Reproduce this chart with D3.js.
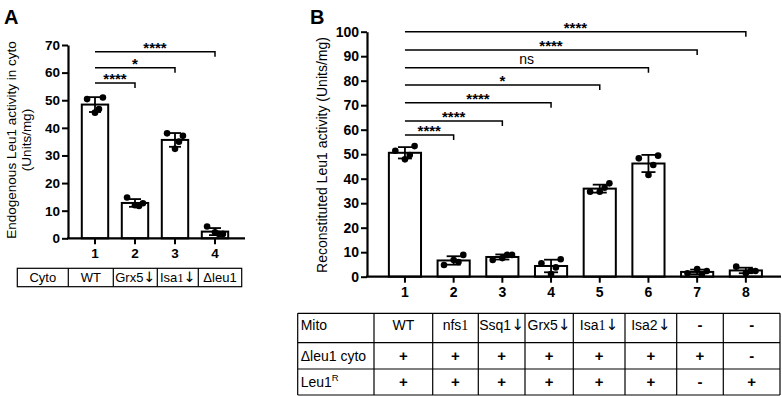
<!DOCTYPE html>
<html lang="en">
<head>
<meta charset="UTF-8">
<script src="https://d3js.org/d3.v7.min.js"></script>
<style>
    body { margin: 0; background: #fff; }
    text { font-family: "Liberation Sans", Arial, sans-serif; fill: #000; }
</style>
</head>
<body>
<div id="chart"></div>
<script>
    // ---- panel A data ----
    const catsA = ["1", "2", "3", "4"]
    const pointsA = [
        [50.4, 51.0, 45.5, 46.8],
        [14.8, 12.7, 12.0, 11.7],
        [38.0, 37.1, 32.4, 35.0],
        [4.3, 1.6, 2.2, 1.6]
    ]
    const tableA = ["Cyto", "WT", "Grx5\u2193", "Isa1\u2193", "\u0394leu1"]
    const sigToA = ["2", "3", "4"]
    const sigLabelA = ["****", "*", "****"]
    const sigLevelA = [56.2, 61.8, 67.6]
    const ticksA = [0, 10, 20, 30, 40, 50, 60, 70]

    // ---- panel B data ----
    const catsB = ["1", "2", "3", "4", "5", "6", "7", "8"]
    const pointsB = [
        [51.4, 53.3, 47.9, 49.7],
        [4.8, 8.9, 6.8, 6.0],
        [6.8, 8.9, 7.6, 8.9],
        [5.5, 7.1, 1.1, 3.8],
        [34.7, 38.1, 34.7, 36.3],
        [48.3, 49.4, 41.5, 45.6],
        [1.4, 2.3, 3.1, 1.0],
        [4.1, 2.3, 1.4, 2.4]
    ]
    const rowLabelsB = ["Mito", "\u0394leu1 cyto", "Leu1"]
    const mitoB = ["WT", "nfs1", "Ssq1\u2193", "Grx5\u2193", "Isa1\u2193", "Isa2\u2193", "-", "-"]
    const cytoB = ["+", "+", "+", "+", "+", "+", "+", "-"]
    const leuB = ["+", "+", "+", "+", "+", "+", "-", "+"]
    const sigToB = ["2", "3", "4", "5", "6", "7", "8"]
    const sigLabelB = ["****", "****", "****", "*", "ns", "****", "****"]
    const sigLevelB = [57.8, 63.6, 71.0, 78.2, 85.3, 92.5, 100]
    const ticksB = [0, 10, 20, 30, 40, 50, 60, 70, 80, 90, 100]

    const svg = d3.select("#chart").append("svg")
        .attr("width", 782)
        .attr("height", 396)

    // spread of the 4 dots inside a bar (fraction of bar width)
    const jitter = [-0.3, 0.3, 0, 0.15]

    function panel(opt) {
        let g = svg.append("g")
        let x = d3.scaleBand()
            .domain(opt.cats)
            .range(opt.xRange)
            .paddingInner(0.34)
            .paddingOuter(0.17)
        let y = d3.scaleLinear()
            .domain([0, d3.max(opt.ticks)])
            .range(opt.yRange)

        let stats = opt.points.map((p, i) => ({
            cat: opt.cats[i],
            mean: d3.mean(p),
            sd: d3.deviation(p),
            pts: p
        }))

        // bars
        g.selectAll("rect.bar")
            .data(stats)
            .join("rect")
            .attr("class", "bar")
            .attr("x", d => x(d.cat))
            .attr("y", d => y(d.mean))
            .attr("width", x.bandwidth())
            .attr("height", d => y(0) - y(d.mean))
            .attr("fill", "white")
            .attr("stroke", "black")
            .attr("stroke-width", 2)

        // error bars
        let cap = opt.cap
        let eb = g.selectAll("g.eb")
            .data(stats)
            .join("g")
            .attr("class", "eb")
            .attr("stroke", "black")
            .attr("stroke-width", 1.8)
        eb.append("line")
            .attr("x1", d => x(d.cat) + x.bandwidth() / 2)
            .attr("x2", d => x(d.cat) + x.bandwidth() / 2)
            .attr("y1", d => y(Math.max(0, d.mean - d.sd)))
            .attr("y2", d => y(d.mean + d.sd))
        eb.append("line")
            .attr("x1", d => x(d.cat) + x.bandwidth() / 2 - cap / 2)
            .attr("x2", d => x(d.cat) + x.bandwidth() / 2 + cap / 2)
            .attr("y1", d => y(d.mean + d.sd))
            .attr("y2", d => y(d.mean + d.sd))
        eb.append("line")
            .attr("x1", d => x(d.cat) + x.bandwidth() / 2 - cap / 2)
            .attr("x2", d => x(d.cat) + x.bandwidth() / 2 + cap / 2)
            .attr("y1", d => y(Math.max(0, d.mean - d.sd)))
            .attr("y2", d => y(Math.max(0, d.mean - d.sd)))

        // dots
        let dots = []
        stats.forEach(s => s.pts.forEach((v, j) => dots.push({cat: s.cat, v: v, j: j})))
        g.selectAll("circle.dot")
            .data(dots)
            .join("circle")
            .attr("class", "dot")
            .attr("cx", d => x(d.cat) + x.bandwidth() / 2 + jitter[d.j] * x.bandwidth())
            .attr("cy", d => y(d.v))
            .attr("r", 3.3)
            .attr("fill", "black")

        // y axis
        let ya = g.append("g")
            .attr("transform", `translate(${opt.axisX},0)`)
            .call(d3.axisLeft(y).tickValues(opt.ticks).tickSize(6).tickSizeOuter(0).tickPadding(2))
        ya.select(".domain").attr("stroke-width", 2.2)
        ya.selectAll(".tick line").attr("stroke-width", 2)
        ya.selectAll(".tick text")
            .attr("font-size", opt.tickFont)
            .attr("font-family", "Liberation Sans")
            .attr("font-weight", "bold")
            .attr("fill", "black")

        // x axis
        g.append("line")
            .attr("x1", opt.axisX - 1)
            .attr("x2", opt.axisEnd)
            .attr("y1", y(0))
            .attr("y2", y(0))
            .attr("stroke", "black")
            .attr("stroke-width", 2.2)
        let xa = g.append("g")
            .attr("transform", `translate(0,${y(0)})`)
            .call(d3.axisBottom(x).tickSize(6).tickSizeOuter(0).tickPadding(4))
        xa.select(".domain").remove()
        xa.selectAll(".tick line").attr("stroke-width", 2)
        xa.selectAll(".tick text")
            .attr("font-size", opt.tickFont)
            .attr("font-family", "Liberation Sans")
            .attr("font-weight", "bold")
            .attr("fill", "black")

        // significance brackets
        let x0 = x(opt.cats[0]) + x.bandwidth() / 2
        opt.sigTo.forEach((to, i) => {
            let x1 = x(to) + x.bandwidth() / 2
            let yy = y(opt.sigLevel[i])
            g.append("path")
                .attr("d", `M${x0},${yy}H${x1}V${yy + 5}`)
                .attr("fill", "none")
                .attr("stroke", "black")
                .attr("stroke-width", 1.5)
            let lab = opt.sigLabel[i]
            g.append("text")
                .attr("x", (x0 + x1) / 2)
                .attr("y", lab === "ns" ? yy - 3.5 : yy + 1)
                .attr("text-anchor", "middle")
                .attr("font-size", lab === "ns" ? 14 : 15)
                .attr("font-weight", lab === "ns" ? "normal" : "bold")
                .text(lab)
        })
        return x
    }

    panel({
        cats: catsA, points: pointsA, ticks: ticksA,
        xRange: [75, 235], yRange: [238.3, 45],
        axisX: 68, axisEnd: 245, cap: 12, tickFont: 13.5,
        sigTo: sigToA, sigLabel: sigLabelA, sigLevel: sigLevelA
    })
    panel({
        cats: catsB, points: pointsB, ticks: ticksB,
        xRange: [380.6, 770.2], yRange: [276.7, 31.7],
        axisX: 367, axisEnd: 781, cap: 14, tickFont: 14,
        sigTo: sigToB, sigLabel: sigLabelB, sigLevel: sigLevelB
    })

    // panel letters
    svg.append("text").attr("x", 4).attr("y", 24)
        .attr("font-size", 20).attr("font-weight", "bold").text("A")
    svg.append("text").attr("x", 310).attr("y", 24)
        .attr("font-size", 20).attr("font-weight", "bold").text("B")

    // y axis titles
    svg.append("text")
        .attr("transform", "translate(16,140) rotate(-90)")
        .attr("text-anchor", "middle")
        .attr("font-size", 13.5)
        .text("Endogenous Leu1 activity in cyto")
    svg.append("text")
        .attr("transform", "translate(31,140) rotate(-90)")
        .attr("text-anchor", "middle")
        .attr("font-size", 13.5)
        .text("(Units/mg)")
    svg.append("text")
        .attr("transform", "translate(327,155) rotate(-90)")
        .attr("text-anchor", "middle")
        .attr("font-size", 14)
        .text("Reconstituted Leu1 activity (Units/mg)")

    // writes a label: trailing "1" in serif and the down arrow in a fuller glyph, like the source figure
    function cellText(sel, s) {
        let m = s.match(/^(nfs|Isa)1(.*)$/)
        let rest = s
        if (m) {
            sel.append("tspan").text(m[1])
            sel.append("tspan").attr("font-family", "Liberation Serif").text("1")
            rest = m[2]
        }
        if (rest.endsWith("\u2193")) {
            sel.append("tspan").text(rest.slice(0, -1))
            sel.append("tspan").attr("font-family", "DejaVu Sans").attr("font-size", "1.1em").text("\u2193")
        } else if (rest) {
            sel.append("tspan").text(rest)
        }
    }

    // ---- table A ----
    const edgesA = [17.3, 68.3, 113.3, 157.3, 198.3, 241.7]
    const topA = 268.3, botA = 286.7
    let tA = svg.append("g")
    tA.append("rect")
        .attr("x", edgesA[0]).attr("y", topA)
        .attr("width", edgesA[edgesA.length - 1] - edgesA[0])
        .attr("height", botA - topA)
        .attr("fill", "none").attr("stroke", "black").attr("stroke-width", 1.2)
    edgesA.slice(1, -1).forEach(e => {
        tA.append("line").attr("x1", e).attr("x2", e).attr("y1", topA).attr("y2", botA)
            .attr("stroke", "black").attr("stroke-width", 1.2)
    })
    tableA.forEach((s, i) => {
        let t = tA.append("text")
            .attr("x", (edgesA[i] + edgesA[i + 1]) / 2)
            .attr("y", (topA + botA) / 2 + 4.5)
            .attr("text-anchor", "middle")
            .attr("font-size", 13)
        cellText(t, s)
    })

    // ---- table B ----
    const edgesB = [297.7, 374, 432.7, 478.3, 525, 573.3, 625, 676.7, 723.3, 780]
    const rowsYB = [313.3, 342.7, 369, 395]
    let tB = svg.append("g")
    edgesB.forEach(e => {
        tB.append("line").attr("x1", e).attr("x2", e).attr("y1", rowsYB[0]).attr("y2", rowsYB[3])
            .attr("stroke", "black").attr("stroke-width", 1.2)
    })
    rowsYB.forEach(r => {
        tB.append("line").attr("x1", edgesB[0]).attr("x2", edgesB[edgesB.length - 1]).attr("y1", r).attr("y2", r)
            .attr("stroke", "black").attr("stroke-width", 1.2)
    })
    const rowsB = [mitoB, cytoB, leuB]
    rowLabelsB.forEach((lab, r) => {
        let cy = (rowsYB[r] + rowsYB[r + 1]) / 2
        let t = tB.append("text")
            .attr("x", edgesB[0] + 3)
            .attr("y", r === 0 ? cy + 2 : cy + 5)
            .attr("font-size", 14)
            .text(lab)
        if (r === 2) {
            t.append("tspan").attr("font-size", 9.5).attr("dy", -6).text("R")
        }
        rowsB[r].forEach((s, i) => {
            let t2 = tB.append("text")
                .attr("x", (edgesB[i + 1] + edgesB[i + 2]) / 2)
                .attr("y", r === 0 ? cy + 2 : cy + 5)
                .attr("text-anchor", "middle")
                .attr("font-size", s === "+" || s === "-" ? 15 : 14)
                .attr("font-weight", s === "+" || s === "-" ? "bold" : "normal")
            cellText(t2, s)
        })
    })
</script>
</body>
</html>
